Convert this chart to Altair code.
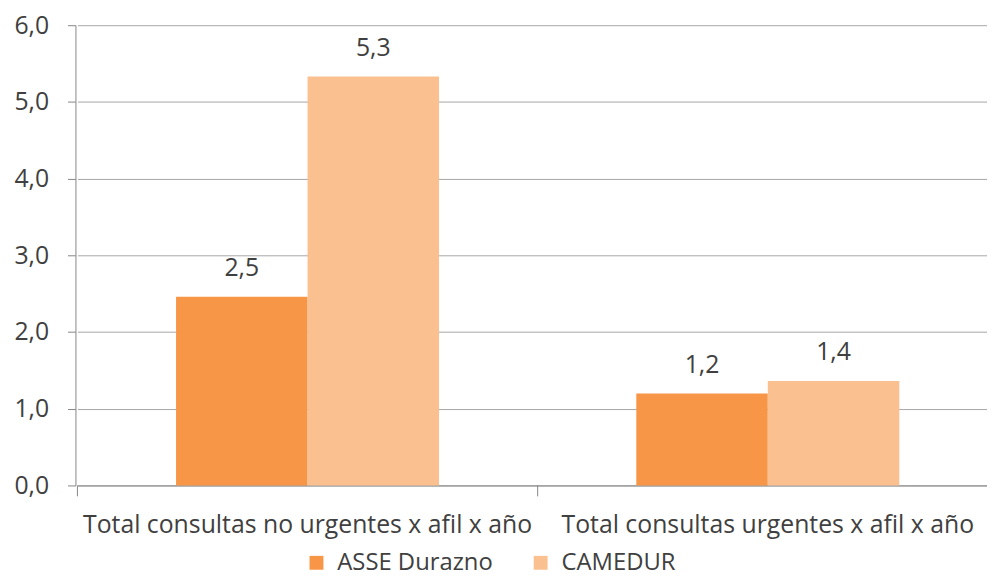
import altair as alt
import pandas as pd

categories = ["Total consultas no urgentes x afil x año", "Total consultas urgentes x afil x año"]
series = ["ASSE Durazno", "CAMEDUR"]
asse_values = [2.46, 1.20]
camedur_values = [5.33, 1.36]
colors = ["#F79646", "#FAC090"]

rows = []
for i, c in enumerate(categories):
    rows.append({"cat": c, "serie": series[0], "valor": asse_values[i]})
    rows.append({"cat": c, "serie": series[1], "valor": camedur_values[i]})
df = pd.DataFrame(rows)

FONT = "Open Sans"
TXT = "#404040"
FS = 25
W, H = 919, 464

xscale = alt.Scale(domain=categories, paddingInner=0, paddingOuter=0, range=[2, 930])
xoff_scale = alt.Scale(domain=series, paddingOuter=0.75, paddingInner=0)

base = alt.Chart(df)

bars = base.mark_bar().encode(
    x=alt.X("cat:N", scale=xscale, sort=categories,
            axis=alt.Axis(title=None, labelAngle=0, ticks=False, domain=True,
                          domainColor="#868686", labelFont=FONT, labelFontSize=FS,
                          labelColor=TXT, labelPadding=47, labelBaseline="alphabetic",
                          labelLimit=0)),
    xOffset=alt.XOffset("serie:N", scale=xoff_scale, sort=series),
    y=alt.Y("valor:Q", scale=alt.Scale(domain=[0, 6], nice=False),
            axis=alt.Axis(title=None, values=[0, 1, 2, 3, 4, 5, 6],
                          labelExpr="replace(format(datum.value, '.1f'), '.', ',')",
                          grid=True, gridColor="#A6A6A6", domainColor="#868686",
                          tickColor="#868686", tickSize=8, labelPadding=19,
                          labelFont=FONT, labelFontSize=FS, labelColor=TXT)),
    color=alt.Color("serie:N", scale=alt.Scale(domain=series, range=colors),
                    legend=alt.Legend(title=None, orient="none", direction="horizontal",
                                      legendX=231, legendY=530, symbolType="square",
                                      symbolSize=196, symbolStrokeWidth=0,
                                      labelFont=FONT, labelFontSize=FS - 1, labelColor=TXT,
                                      columnPadding=36, symbolOffset=0, labelOffset=9,
                                      padding=0)),
)

labels = base.mark_text(baseline="alphabetic", dy=-21, font=FONT, fontSize=FS, color=TXT).transform_calculate(
    lbl="replace(format(datum.valor, '.1f'), '.', ',')"
).encode(
    x=alt.X("cat:N", scale=xscale, sort=categories),
    xOffset=alt.XOffset("serie:N", scale=xoff_scale, sort=series),
    y="valor:Q",
    text="lbl:N",
)

ticks = alt.Chart(pd.DataFrame({"cat": categories})).mark_rule(color="#868686").encode(
    x=alt.X("cat:N", scale=xscale, sort=categories, bandPosition=0),
    y=alt.value(H),
    y2=alt.value(H + 11),
)

chart = alt.layer(bars, labels, ticks).properties(
    width=W, height=H,
    autosize=alt.AutoSizeParams(type="none"),
    padding={"left": 68, "top": 15, "right": 0, "bottom": 92},
).configure_view(stroke=None)

chart.save("out.html", embed_options={"renderer": "svg", "actions": False})
